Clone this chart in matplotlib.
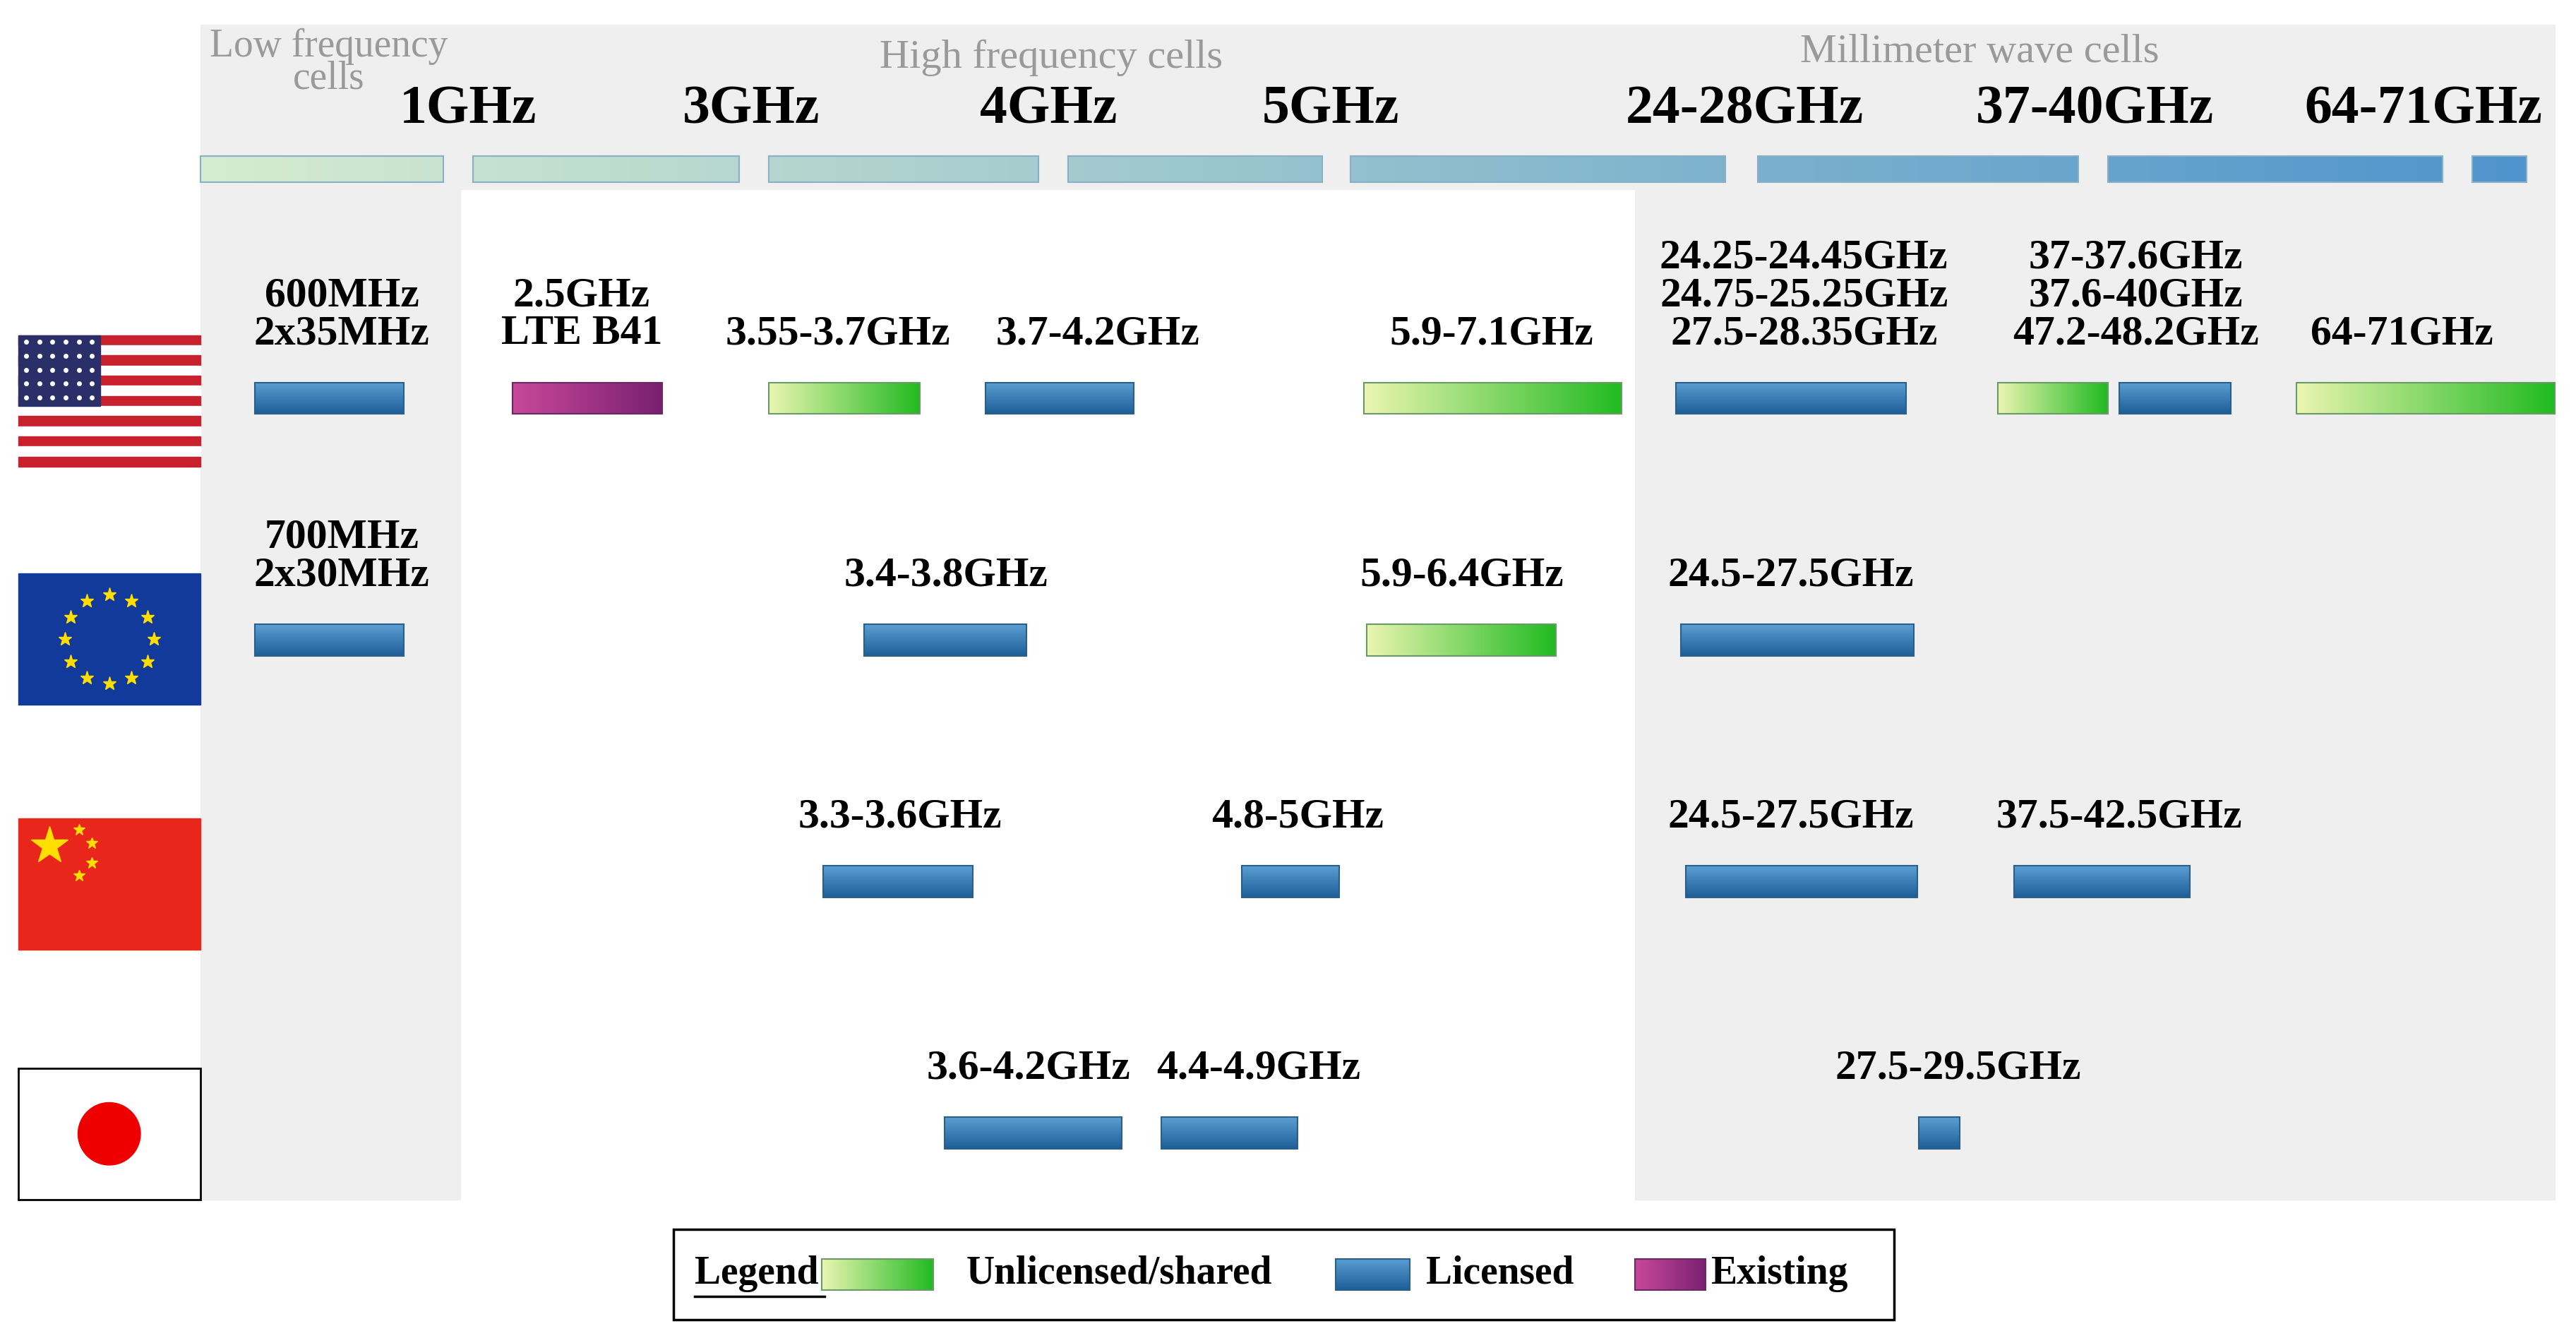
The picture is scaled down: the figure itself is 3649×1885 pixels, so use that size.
import numpy as np
import matplotlib
matplotlib.use('Agg')
import matplotlib.pyplot as plt
from matplotlib.patches import Rectangle, Circle
from matplotlib.colors import to_rgb

# header band segments (left, right) and labels
band_segs = [(122, 270), (288, 450), (468, 632), (650, 805), (822, 1050), (1070, 1265), (1283, 1487), (1505, 1538)]
ghz_labels = ['1GHz', '3GHz', '4GHz', '5GHz', '24-28GHz', '37-40GHz', '64-71GHz']
ghz_x = [285, 457, 638, 810, 1062, 1275, 1475]

# spectrum bars per region: (left, right, kind)
us_bars = [(155, 246, 'L'), (312, 403, 'E'), (468, 560, 'U'), (600, 690, 'L'), (830, 987, 'U'),
           (1020, 1160, 'L'), (1216, 1283, 'U'), (1290, 1358, 'L'), (1398, 1555, 'U')]
eu_bars = [(155, 246, 'L'), (526, 625, 'L'), (832, 947, 'U'), (1023, 1165, 'L')]
cn_bars = [(501, 592, 'L'), (756, 815, 'L'), (1026, 1167, 'L'), (1226, 1333, 'L')]
jp_bars = [(575, 683, 'L'), (707, 790, 'L'), (1168, 1193, 'L')]

us_labels = [(208, '600MHz\n2x35MHz'), (354, '2.5GHz\nLTE B41'), (510, '3.55-3.7GHz'), (668, '3.7-4.2GHz'),
             (908, '5.9-7.1GHz'), (1098, '24.25-24.45GHz\n24.75-25.25GHz\n27.5-28.35GHz'),
             (1300, '37-37.6GHz\n37.6-40GHz\n47.2-48.2GHz'), (1462, '64-71GHz')]
eu_labels = [(208, '700MHz\n2x30MHz'), (576, '3.4-3.8GHz'), (890, '5.9-6.4GHz'), (1090, '24.5-27.5GHz')]
cn_labels = [(548, '3.3-3.6GHz'), (790, '4.8-5GHz'), (1090, '24.5-27.5GHz'), (1290, '37.5-42.5GHz')]
jp_labels = [(626, '3.6-4.2GHz'), (766, '4.4-4.9GHz'), (1192, '27.5-29.5GHz')]

rows = [(us_bars, us_labels, 233), (eu_bars, eu_labels, 380), (cn_bars, cn_labels, 527), (jp_bars, jp_labels, 680)]
bar_h = 19

plt.rcParams['font.family'] = ['Liberation Serif', 'DejaVu Serif']
fig = plt.figure(figsize=(36.49, 18.85), dpi=100)
ax = fig.add_axes([0, 0, 1, 1])
ax.axis('off')


def grad(x0, x1, y0, y1, c0, c1, vertical=False, z=3, edge=None):
    n = 64
    t = np.linspace(0, 1, n)
    a, b = np.array(to_rgb(c0)), np.array(to_rgb(c1))
    cols = a[None, :] * (1 - t[:, None]) + b[None, :] * t[:, None]
    img = cols[:, None, :] if vertical else cols[None, :, :]
    ax.imshow(img, extent=(x0, x1, y1, y0), origin='upper', aspect='auto', zorder=z, interpolation='bilinear')
    if edge:
        ax.add_patch(Rectangle((x0, y0), x1 - x0, y1 - y0, fill=False, ec=edge, lw=1.5, zorder=z + 0.1))


kinds = {'U': ('#eaf5b0', '#22bb22', False, '#6a9a6a'),
         'L': ('#5a9fd4', '#1d5e96', True, '#2a5f8a'),
         'E': ('#c8489a', '#7a2070', False, '#6a2a60')}

# background panels
ax.add_patch(Rectangle((122, 15), 1433, 100, color='#efefef', zorder=0))
ax.add_patch(Rectangle((122, 115), 158, 615, color='#efefef', zorder=0))
ax.add_patch(Rectangle((995, 115), 560, 615, color='#efefef', zorder=0))

# header band: gradient pale green -> blue across the whole width
c_start, c_end = np.array(to_rgb('#d6ecd0')), np.array(to_rgb('#4f94cc'))
for x0, x1 in band_segs:
    f0, f1 = (x0 - 122) / 1416, (x1 - 122) / 1416
    grad(x0, x1, 95, 111, c_start * (1 - f0) + c_end * f0, c_start * (1 - f1) + c_end * f1, z=2, edge='#8ab0c8')

grey = '#9a9a9a'
ax.text(200, 38, 'Low frequency\ncells', ha='center', va='center', fontsize=40, color=grey, linespacing=0.85)
ax.text(640, 35, 'High frequency cells', ha='center', va='center', fontsize=42, color=grey)
ax.text(1205, 32, 'Millimeter wave cells', ha='center', va='center', fontsize=42, color=grey)
for x, s in zip(ghz_x, ghz_labels):
    ax.text(x, 67, s, ha='center', va='center', fontsize=56, fontweight='bold')

# bars and labels
for bars, labels, y in rows:
    for x0, x1, k in bars:
        c0, c1, v, e = kinds[k]
        grad(x0, x1, y, y + bar_h, c0, c1, vertical=v, edge=e)
    for x, s in labels:
        ax.text(x, y - 18, s, ha='center', va='bottom', fontsize=43, fontweight='bold', linespacing=1.0)

# flags
fx0, fw, fh = 11, 111, 80
# US
fy = 204
for i in range(13):
    ax.add_patch(Rectangle((fx0, fy + i * fh / 13), fw, fh / 13, color='#c8202c' if i % 2 == 0 else 'white', zorder=2))
ax.add_patch(Rectangle((fx0, fy), 50, fh * 7 / 13, color='#2a2f6a', zorder=3))
for i in range(5):
    for j in range(6):
        ax.plot(fx0 + 5 + j * 8, fy + 4 + i * 8.5, 'o', color='white', ms=4, zorder=4)
# EU
fy = 349
ax.add_patch(Rectangle((fx0, fy), fw, fh, color='#123a9a', zorder=2))
ang = np.linspace(0, 2 * np.pi, 13)[:-1]
ax.plot(fx0 + fw / 2 + 27 * np.cos(ang), fy + fh / 2 + 27 * np.sin(ang), '*', color='#ffdd00', ms=14, zorder=3, ls='none')
# China
fy = 498
ax.add_patch(Rectangle((fx0, fy), fw, fh, color='#e8261c', zorder=2))
ax.plot(fx0 + 19, fy + 17, '*', color='#ffde00', ms=40, zorder=3)
for dx, dy in [(37, 7), (45, 15), (45, 27), (37, 35)]:
    ax.plot(fx0 + dx, fy + dy, '*', color='#ffde00', ms=12, zorder=3)
# Japan
fy = 650
ax.add_patch(Rectangle((fx0, fy), fw, fh, fc='white', ec='black', lw=2, zorder=2))
ax.add_patch(Circle((fx0 + fw / 2, fy + fh / 2), 19, color='#ee0000', zorder=3))

# legend
ax.add_patch(Rectangle((410, 748), 743, 55, fill=False, ec='black', lw=2.5, zorder=2))
ax.text(423, 775, 'Legend', ha='left', va='center', fontsize=40, fontweight='bold')
ax.plot([423, 502], [789, 789], color='black', lw=2.5)
legend_items = [('U', 500, 568, 'Unlicensed/shared', 588), ('L', 813, 858, 'Licensed', 868), ('E', 995, 1038, 'Existing', 1041)]
for k, x0, x1, s, tx in legend_items:
    c0, c1, v, e = kinds[k]
    grad(x0, x1, 766, 785, c0, c1, vertical=v, edge=e)
    ax.text(tx, 775, s, ha='left', va='center', fontsize=40, fontweight='bold')

ax.set_xlim(0, 1568)
ax.set_ylim(810, 0)
fig.savefig('out.png', dpi=100, facecolor='white')
